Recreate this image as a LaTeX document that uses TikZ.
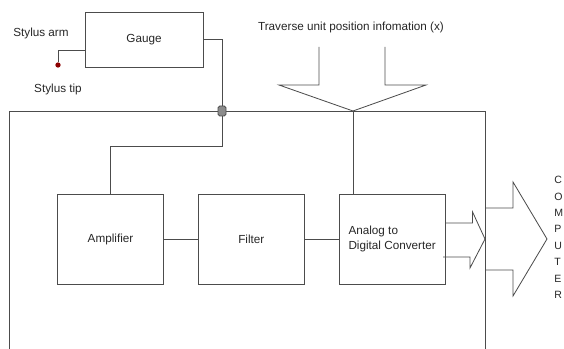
\documentclass[tikz,border=0pt]{standalone}
\usepackage{fontspec}
\setmainfont{Liberation Sans}
\usetikzlibrary{positioning}

\begin{document}
\begin{tikzpicture}[%
		x=0.03cm,
		y=-0.03cm,
		line width=0.7pt,
		color=black!70,
		text=black!85,
		font=\fontsize{10}{12}\selectfont,
		block/.style={%
			minimum width=3.18cm,
			minimum height=2.7cm,
			draw,
			inner sep=2pt
		},
		gaugebox/.style={%
			minimum width=3.54cm,
			minimum height=1.65cm,
			draw
		},
		junction/.style={%
			draw,
			fill=black!45,
			rounded corners=1.5pt,
			minimum width=0.24cm,
			minimum height=0.3cm,
			inner sep=0pt
		},
		dot/.style={%
			circle,
			fill=red!55!black,
			minimum size=4.5pt,
			inner sep=0pt
		}
		]
		\useasboundingbox (0,0) rectangle (564,349);
		
		\node[gaugebox] (gauge) at (144,39.5)                          {Gauge};
		\node (armtext) at (41,33)                                     {Stylus arm};
		\node (tiptext) at (58,89)                                     {Stylus tip};
		\node[dot] (tip) at (58,65)                                    {};
		\node[block] (amp) at (110.5,239)                              {Amplifier};
		\node[block] (filter) [right=1.02cm of amp]                    {Filter};
		\node[block, align=left] (adc) [right=1.02cm of filter]        {Analog to\\Digital Converter};
		\node (trav) at (351,27)                                       {Traverse unit position infomation (x)};
		
		% casing
		\coordinate (cbl) at (9,349);
		\coordinate (ctl) at (9,111);
		\coordinate (ctr) at (485,111);
		\coordinate (cbr) at (485,349);
		\draw (cbl) -- (ctl) -- (ctr) -- (cbr);
		\node[junction] (junc) at (222,111) {};
		
		% stylus
		\coordinate (armin) at (85,50);
		\draw (armin) -| (tip);
		
		% gauge signal to amplifier
		\coordinate (jbend) at (222,146);
		\draw (gauge.east) -| (junc);
		\draw (junc) -- (jbend) -| (amp.north);
		
		\path (amp) edge (filter)
		(filter) edge (adc);
		
		% position input
		\coordinate (apex) at (353,111);
		\draw (319,47) -- (319,85) -- (279,85) -- (apex) -- (426,85) -- (385,85) -- (385,47);
		\draw (apex) -- (apex |- adc.north);
		
		% output arrows
		\coordinate (sout) at (485,239);
		\coordinate (pc) at (547,239);
		\draw (adc.east) ++(0,-16) -- ++(27,0) -- ++(0,-11) -- (sout) -- ++(-15,29) -- ++(0,-11) -- ++(-27,0);
		\draw (sout) ++(0,-31) -- ++(28,0) -- ++(0,-26) -- (pc) -- ++(-34,57) -- ++(0,-26) -- ++(-28,0);
		
		\foreach \ch [count=\i from 0] in {C,O,M,P,U,T,E,R}
		\node[anchor=west, inner sep=0pt, font=\fontsize{9}{10}\selectfont] (pc-\i) at (554,{180+16.4*\i}) {\ch};
		\end{tikzpicture}
\end{document}
